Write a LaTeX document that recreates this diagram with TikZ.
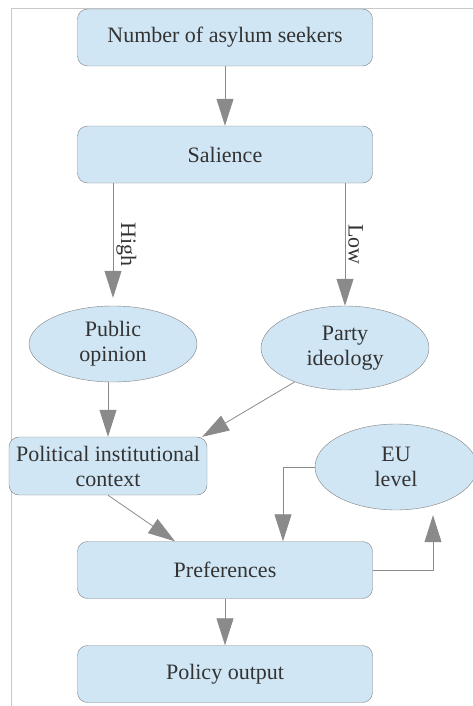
\documentclass[tikz,border=0pt]{standalone}
\usepackage{fontspec}
\setmainfont{Liberation Serif}
\usetikzlibrary{shapes.geometric,arrows.meta}
\definecolor{boxfill}{HTML}{D0E6F4}
\definecolor{boxline}{HTML}{808080}
\definecolor{arrowgray}{HTML}{8A8A8A}
\definecolor{textgray}{HTML}{333333}
\definecolor{framegray}{HTML}{C8C8C8}
\begin{document}
\begin{tikzpicture}[x=1pt,y=-1pt,
        font=\fontsize{22}{25}\selectfont,
        flowbox/.style={draw=boxline,fill=boxfill,rounded corners=10pt,text=textgray,
            align=center,inner sep=0pt,minimum width=295pt,minimum height=57pt},
        flowoval/.style={ellipse,draw=boxline,fill=boxfill,text=textgray,align=center,inner sep=0pt},
        flowarrow/.style={draw=arrowgray,line width=0.8pt,-{Triangle[width=17pt,length=27pt]}},
        flowlabel/.style={rotate=-90,anchor=south,inner sep=3pt,text=textgray}]
        \useasboundingbox (0,0) rectangle (473,706);
        \clip (0,0) rectangle (473,706);

        \draw[framegray] (11,706) -- (11,8) -- (473,8);

        \node[flowbox] (seekers) at (225,37.5) {Number of asylum seekers};
        \node[flowbox] (salience) at (225,154.5) {Salience};

        \node[flowoval,minimum width=168pt,minimum height=76pt] (opinion) at (113,344) {Public\\opinion};
        \node[flowoval,minimum width=168pt,minimum height=84pt] (ideology) at (345,348) {Party\\ideology};

        \node[flowbox,minimum width=198pt,minimum height=58pt] (context) at (108,466) {Political institutional\\context};
        \node[flowoval,minimum width=162pt,minimum height=86pt] (eulevel) at (396,467) {EU\\level};

        \node[flowbox] (prefs) at (225,570) {Preferences};
        \node[flowbox] (output) at (225,674) {Policy output};

        \draw[flowarrow] (seekers) -- (salience);
        \draw[flowarrow,shorten >=8pt] (opinion.north |- salience.south) -- node[flowlabel] {High} (opinion.north);
        \draw[flowarrow] (ideology.north |- salience.south) -- node[flowlabel] {Low} (ideology.north);

        \draw[flowarrow] (context.north |- opinion.south) -- (context.north);
        \draw[flowarrow] (ideology.214) -- ([xshift=-5pt]context.north east);

        \draw[flowarrow] (context.south) -- ([xshift=-50pt]prefs.north);
        \draw[flowarrow] (eulevel.west) -| ([xshift=58pt]prefs.north);
        \draw[flowarrow,shorten >=5pt] (prefs.east) -| ([xshift=37pt]eulevel.south);

        \draw[flowarrow] (prefs) -- (output);
    \end{tikzpicture}
\end{document}
